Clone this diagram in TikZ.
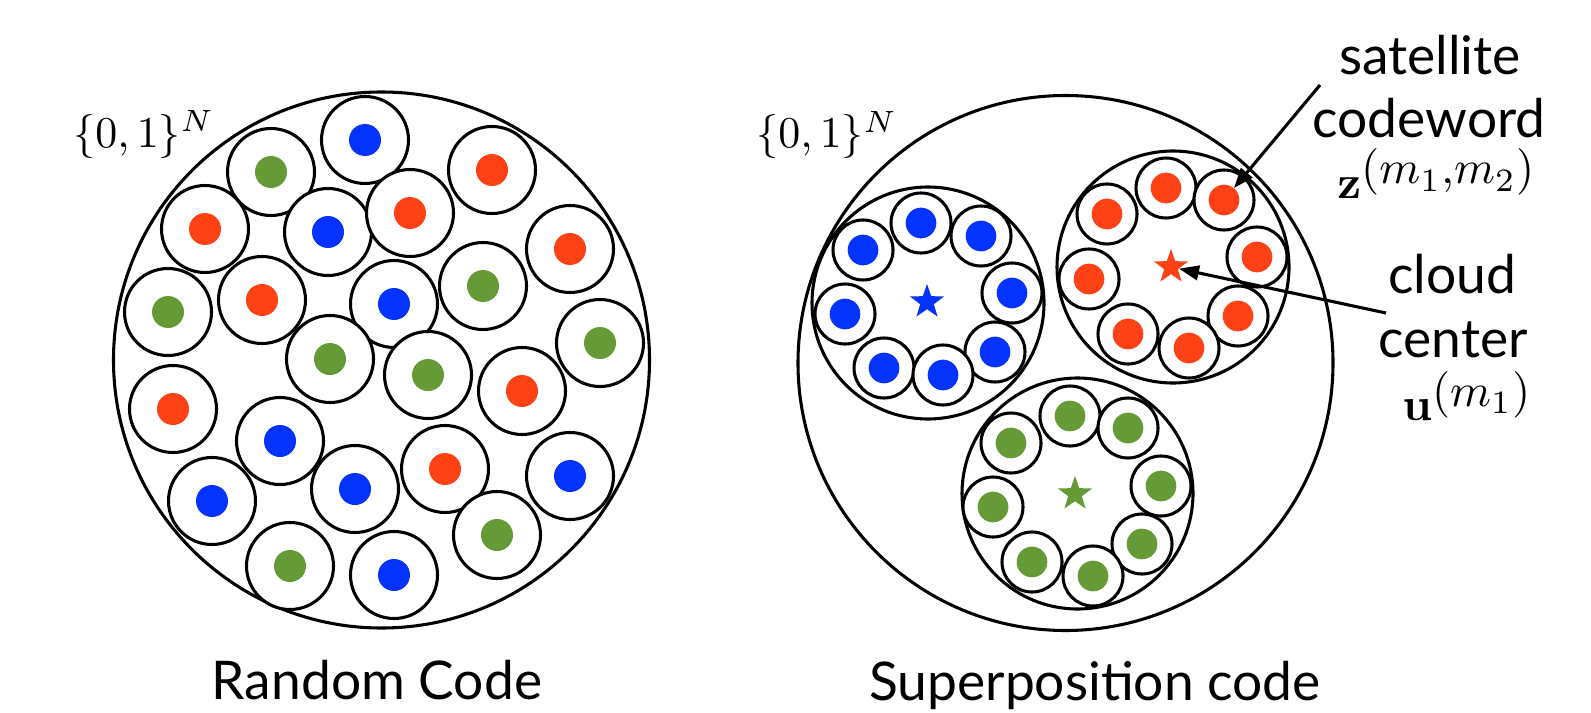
\documentclass[tikz,border=0pt]{standalone}
\usepackage{graphicx}
\usepackage[no-math]{fontspec}
\setmainfont{Lato}
\usetikzlibrary{arrows.meta,shapes.geometric}
\definecolor{cblue}{RGB}{4,50,255}
\definecolor{cred}{RGB}{255,66,21}
\definecolor{cgreen}{RGB}{102,154,55}
\newcommand{\bigmath}[2]{\scalebox{#1}{\fontsize{10}{12}\selectfont #2}}
\tikzset{
  lw/.style={line width=2.3pt},
  ringL/.style={circle, draw, lw, fill=white, minimum size=65.25pt, inner sep=0pt},
  dotL/.style={circle, fill=#1, minimum size=24pt, inner sep=0pt},
  ringS/.style={circle, draw, lw, fill=white, minimum size=45pt, inner sep=0pt},
  dotS/.style={circle, fill=#1, minimum size=23pt, inner sep=0pt},
  cstar/.style={star, star points=5, star point ratio=2.5, fill=#1, minimum size=27pt, inner sep=0pt},
  lbl/.style={font=\fontsize{40}{48}\selectfont, inner sep=0pt},
  mlbl/.style={inner sep=0pt},
  arr/.style={lw, -{Triangle[length=15pt,width=11pt]}},
}
\begin{document}
\begin{tikzpicture}[x=0.75pt,y=-0.75pt]
\useasboundingbox (0,0) rectangle (1591,713);

% ---------- Left: random code ----------
\draw[lw] (381.5,360) circle (268);
\foreach \n/\x/\y/\c in {
  1/365/140/cblue, 2/271/172/cgreen, 3/492/170/cred, 4/205/229/cred,
  5/328/232/cblue, 6/410/213/cred, 7/570/249/cred, 8/168/312/cgreen,
  9/262/300/cred, 10/394/304/cblue, 11/483/286/cgreen, 12/600/343/cgreen,
  13/330/359/cgreen, 14/428/375/cgreen, 15/522/391/cred, 16/173/409/cred,
  17/280/441/cblue, 18/212/501/cblue, 19/355/489/cblue, 20/445/469/cred,
  21/570/476/cblue, 22/497/535/cgreen, 23/290/566/cgreen, 24/394/575/cblue}{
  \node[ringL] (L\n) at (\x,\y) {};
  \node[dotL=\c] (Ld\n) at (\x,\y) {};
}
\node[mlbl, anchor=base west] (setL) at (73,147) {\bigmath{3.3}{$\{0,1\}^N$}};
\node[lbl, anchor=base] (rc) at (377,699) {Random Code};

% ---------- Right: superposition code ----------
\draw[lw] (1065.5,363) circle (267.5);
% clouds
\draw[lw] (928,303) circle (116);
\draw[lw] (1173,267) circle (116);
\draw[lw] (1077.5,493.5) circle (115.5);
% blue satellites
\foreach \n/\x/\y in {1/921/223, 2/981/236, 3/863/250, 4/1012/293,
  5/845/314, 6/995/352, 7/884/368, 8/943/375}{
  \node[ringS] (B\n) at (\x,\y) {};
  \node[dotS=cblue] (Bd\n) at (\x,\y) {};
}
% red satellites
\foreach \n/\x/\y in {1/1166/188, 2/1224/200, 3/1107/214, 4/1257/257,
  5/1089/279, 6/1238/316, 7/1128/334, 8/1189/348}{
  \node[ringS] (R\n) at (\x,\y) {};
  \node[dotS=cred] (Rd\n) at (\x,\y) {};
}
% green satellites
\foreach \n/\x/\y in {1/1070/416, 2/1128/428, 3/1011/443, 4/1161/486,
  5/993/507, 6/1142/544, 7/1032/562, 8/1093/576}{
  \node[ringS] (G\n) at (\x,\y) {};
  \node[dotS=cgreen] (Gd\n) at (\x,\y) {};
}
% cloud centers
\node[cstar=cblue] (Bstar) at (927,302) {};
\node[cstar=cred] (Rstar) at (1171,267) {};
\node[cstar=cgreen] (Gstar) at (1075,494) {};

\node[mlbl, anchor=base west] (setR) at (756,148) {\bigmath{3.3}{$\{0,1\}^N$}};
\node[lbl, anchor=base] (sc) at (1095,700) {Superposition code};

% labels
\node[lbl, anchor=base] (sat) at (1430,75) {satellite};
\node[lbl, anchor=base] (cw) at (1429,138) {codeword};
\node[mlbl, anchor=base west] (zl) at (1337,198)
  {\bigmath{3.5}{$\mathbf{z}$\raisebox{3pt}{$(m_1{,}m_2)$}}};
\node[lbl, anchor=base] (cl) at (1452,293) {cloud};
\node[lbl, anchor=base] (ce) at (1453,357) {center};
\node[mlbl, anchor=base west] (ul) at (1402,420)
  {\bigmath{3.5}{$\mathbf{u}$\raisebox{3pt}{$(m_1)$}}};

\coordinate (satfrom) at (1320,85);
\coordinate (cloudfrom) at (1386,313);
\draw[arr] (satfrom) -- (Rd2);
\draw[arr] (cloudfrom) -- (Rstar);
\end{tikzpicture}
\end{document}
